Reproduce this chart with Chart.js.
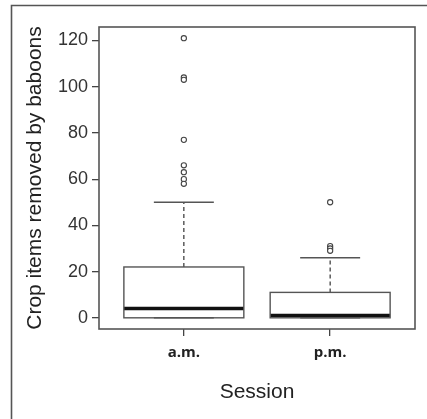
<!DOCTYPE html>
<html>
<head>
<meta charset="utf-8">
<script src="https://cdn.jsdelivr.net/npm/chart.js@4/dist/chart.umd.min.js"></script>
<style>
html,body{margin:0;padding:0;background:#fff;}
#wrap{width:427px;height:419px;position:relative;}
</style>
</head>
<body>
<div id="wrap"><canvas id="c" width="427" height="419"></canvas></div>
<script>
// ---- data ----
const categories = ['a.m.', 'p.m.'];
const positions = [1, 2];
const q1 = [0, 0];
const medians = [4, 1];
const q3 = [22, 11];
const whiskerLow = [0, 0];
const whiskerHigh = [50, 26];
const outliersAM = [121, 104, 103, 77, 66, 63, 60, 58];
const outliersPM = [50, 31, 30, 29];
const yTicks = [0, 20, 40, 60, 80, 100, 120];
const yTitle = 'Crop items removed by baboons';
const xTitle = 'Session';

const boxData = categories.map((c, i) => ({x: positions[i], y: [q1[i], q3[i]]}));
const outlierData = [
  ...outliersAM.map(v => ({x: positions[0], y: v})),
  ...outliersPM.map(v => ({x: positions[1], y: v}))
];

const boxParts = {
  id: 'boxParts',
  beforeDraw(chart) {
    const ctx = chart.ctx;
    ctx.save();
    ctx.fillStyle = '#fff';
    ctx.fillRect(0, 0, chart.width, chart.height);
    ctx.strokeStyle = '#555';
    ctx.lineWidth = 1.6;
    ctx.beginPath();
    ctx.moveTo(11.5, chart.height);
    ctx.lineTo(11.5, 5.5);
    ctx.lineTo(chart.width, 5.5);
    ctx.stroke();
    ctx.restore();
  },
  afterDatasetsDraw(chart) {
    const {ctx, scales: {x, y}} = chart;
    const meta = chart.getDatasetMeta(0);
    ctx.save();
    categories.forEach((c, i) => {
      const bar = meta.data[i];
      const cx = x.getPixelForValue(positions[i]);
      const half = bar.width / 2;
      // whiskers (dashed)
      ctx.strokeStyle = '#333';
      ctx.lineWidth = 1.2;
      ctx.setLineDash([4, 3]);
      ctx.beginPath();
      ctx.moveTo(cx, y.getPixelForValue(q3[i]));
      ctx.lineTo(cx, y.getPixelForValue(whiskerHigh[i]));
      ctx.stroke();
      ctx.beginPath();
      ctx.moveTo(cx, y.getPixelForValue(q1[i]));
      ctx.lineTo(cx, y.getPixelForValue(whiskerLow[i]));
      ctx.stroke();
      ctx.setLineDash([]);
      // caps
      ctx.strokeStyle = '#555';
      ctx.lineWidth = 1.4;
      [whiskerHigh[i], whiskerLow[i]].forEach(v => {
        const py = y.getPixelForValue(v);
        ctx.beginPath();
        ctx.moveTo(cx - half / 2, py);
        ctx.lineTo(cx + half / 2, py);
        ctx.stroke();
      });
      // median
      ctx.strokeStyle = '#111';
      ctx.lineWidth = 3.5;
      const my = y.getPixelForValue(medians[i]);
      ctx.beginPath();
      ctx.moveTo(cx - half, my);
      ctx.lineTo(cx + half, my);
      ctx.stroke();
    });
    // box outlines on top
    ctx.strokeStyle = '#555';
    ctx.lineWidth = 1.4;
    categories.forEach((c, i) => {
      const bar = meta.data[i];
      const cx = x.getPixelForValue(positions[i]);
      const half = bar.width / 2;
      const t = y.getPixelForValue(q3[i]);
      const b = y.getPixelForValue(q1[i]);
      ctx.strokeRect(cx - half, t, 2 * half, b - t);
    });
    ctx.restore();
  },
  afterDraw(chart) {
    const {ctx, chartArea: a} = chart;
    ctx.save();
    ctx.strokeStyle = '#555';
    ctx.lineWidth = 1.6;
    ctx.strokeRect(a.left, a.top, a.right - a.left, a.bottom - a.top);
    ctx.restore();
  }
};

new Chart(document.getElementById('c'), {
  type: 'bar',
  data: {
    datasets: [
      {
        data: boxData,
        backgroundColor: '#fff',
        borderColor: '#444',
        borderWidth: 0,
        borderSkipped: false,
        categoryPercentage: 1,
        barPercentage: 0.82,
        order: 2
      },
      {
        type: 'scatter',
        data: outlierData,
        pointStyle: 'circle',
        pointRadius: 2.6,
        pointBorderWidth: 1.1,
        pointBorderColor: '#444',
        pointBackgroundColor: '#fff',
        order: 1
      }
    ]
  },
  options: {
    responsive: false,
    animation: false,
    devicePixelRatio: 1,
    layout: {padding: {top: 27, right: 12, left: 0, bottom: 0}},
    plugins: {legend: {display: false}, tooltip: {enabled: false}},
    scales: {
      x: {
        type: 'linear',
        offset: false,
        min: 0.42,
        max: 2.58,
        afterBuildTicks: s => { s.ticks = positions.map(v => ({value: v})); },
        afterFit: s => { s.height = 90; },
        ticks: {
          callback: v => categories[positions.indexOf(v)],
          font: {family: 'Open Sans', weight: 'bold', size: 15},
          color: '#222',
          padding: 8,
          maxRotation: 0
        },
        grid: {display: true, offset: false, drawOnChartArea: false, drawTicks: true, tickLength: 7, color: '#444', lineWidth: 1.3},
        border: {display: false},
        title: {
          display: true,
          text: xTitle,
          font: {family: 'Liberation Sans', size: 21},
          color: '#222',
          padding: {top: 0, bottom: 14}
        }
      },
      y: {
        type: 'linear',
        min: -4.84,
        max: 125.84,
        afterBuildTicks: s => { s.ticks = yTicks.map(v => ({value: v})); },
        afterFit: s => { s.width = 99; },
        ticks: {
          font: {family: 'Liberation Sans', size: 18},
          color: '#333',
          padding: 4
        },
        grid: {display: true, drawOnChartArea: false, drawTicks: true, tickLength: 7, color: '#444', lineWidth: 1.3},
        border: {display: false},
        title: {
          display: true,
          text: yTitle,
          font: {family: 'Liberation Sans', size: 21},
          color: '#222',
          padding: {top: 23, bottom: 0}
        }
      }
    }
  },
  plugins: [boxParts]
});
</script>
</body>
</html>
